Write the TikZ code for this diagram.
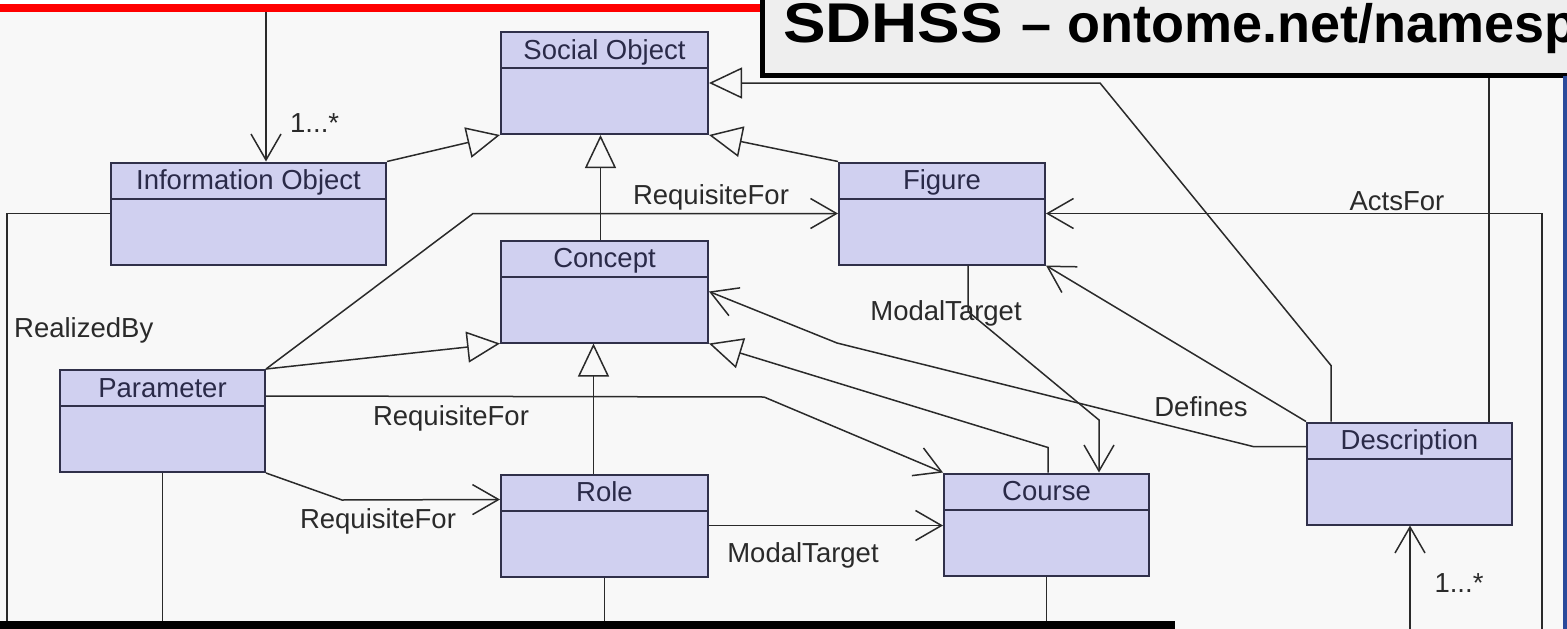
\documentclass[tikz,border=0pt]{standalone}
\usepackage{fontspec}
\setmainfont{Liberation Sans}
\newfontfamily\titlewide[FakeStretch=1.14]{Liberation Sans}
\usetikzlibrary{arrows.meta,positioning}

\definecolor{boxfill}{HTML}{D0D0F0}
\definecolor{boxedge}{HTML}{30304A}
\definecolor{linegray}{HTML}{2A2A2A}
\definecolor{paper}{HTML}{F8F8F8}
\definecolor{titlegray}{HTML}{EEEEEE}
\definecolor{slideblue}{HTML}{2B4A9B}
\definecolor{namecol}{HTML}{2A2A48}

\tikzset{
  classbox/.style={draw=boxedge, line width=2pt, fill=boxfill, inner sep=0pt, minimum height=102pt},
  classname/.style={text=namecol, font=\fontsize{27.5}{32}\selectfont, inner sep=0pt, anchor=base},
  lbl/.style={text=linegray, font=\fontsize{27.5}{32}\selectfont, inner sep=0pt},
  link/.style={draw=linegray, line width=1.5pt},
  assoc/.style={link, -{Straight Barb[length=26pt, width=30pt]}},
  isa/.style={link, -{Triangle[length=33pt, width=31pt, fill=paper]}},
}

\begin{document}
\begin{tikzpicture}[x=1pt, y=-1pt]
\useasboundingbox (0,0) rectangle (1567,629);
\clip (0,0) rectangle (1567,629);
\fill[paper] (0,0) rectangle (1567,629);
\fill[white] (0,0) rectangle (765,5);

% classes
\foreach \n/\cx/\cy/\w/\t in {socobj/604.5/83/207/Social Object,
    infoobj/248.5/213.5/275/Information Object,
    concept/604.5/291.5/207/Concept,
    parameter/162.5/421/205/Parameter,
    role/604.5/525.5/207/Role,
    figure/942/213.5/206/Figure,
    course/1046.5/524.5/205/Course,
    description/1409.5/473.5/205/Description}{
  \node[classbox, minimum width=\w pt] (\n) at (\cx,\cy) {};
  \draw[draw=boxedge, line width=2pt] ([yshift=-37pt]\n.north west) -- ([yshift=-37pt]\n.north east);
  \node[classname] (\n-name) at ([yshift=-28pt]\n.north) {\t};
}

% generalisations
\draw[isa] (infoobj.north east) -- (socobj.south west);
\draw[isa] ([xshift=-4pt]concept.north) -- ([xshift=-4pt]socobj.south);
\draw[isa] (figure.north west) -- (socobj.south east);
\draw[isa] ([xshift=25pt]description.north west) -- ++(0,-56) -- (1100,83) -- (socobj.east);
\draw[isa] (parameter.north east) -- (concept.south west);
\draw[isa] ([xshift=-11pt]role.north) -- ([xshift=-11pt]concept.south);
\draw[isa] ([xshift=1.5pt]course.north) -- ++(0,-25) -- (concept.south east);

% associations
\coordinate (topin) at (266,10);
\draw[assoc] (topin) -- (topin |- infoobj.north);
\node[lbl, anchor=west] (mult-top) at (290,123) {1...*};

\coordinate (descup) at (1489,60);
\draw[link] (descup |- description.north) -- (descup);

\coordinate (actsbot) at (1542,629);
\draw[assoc] (actsbot) |- (figure.east);
\node[lbl] (acts) at (1397,201) {ActsFor};

\draw[assoc] (parameter.north east) -- (473,213.5) -- (figure.west);
\node[lbl] (req-fig) at (711,197) {RequisiteFor};

\draw[assoc] ([yshift=-25pt]description.north west) -- ++(-53,0) -- (837,343) -- (concept.east);
\node[lbl] (def) at (1201,407) {Defines};

\node[lbl] (mt-fig) at (946,313) {ModalTarget};
\draw[assoc] ([xshift=26pt]figure.south) -- ++(0,46) -- (1099,420) -- ([xshift=52.5pt]course.north);

\draw[assoc] (description.north west) -- (figure.south east);

\draw[assoc] ([yshift=-27pt]parameter.north east) -- (764,397) -- (course.north west);
\node[lbl] (req-course) at (451,418) {RequisiteFor};

\draw[assoc] (parameter.south east) -- (342,500) -- ([yshift=-26pt]role.north west);
\node[lbl] (req-role) at (378,521) {RequisiteFor};

\draw[assoc] (role.east) -- (role.east -| course.west);
\node[lbl] (mt-role) at (803,555) {ModalTarget};

\coordinate (realbot) at (7,629);
\draw[link] ([yshift=-52pt]infoobj.north west) -| (realbot);
\node[lbl, anchor=west] (realized) at (14,330) {RealizedBy};

% lines leaving through the bottom
\draw[link] (parameter.south) -- (parameter.south |- realbot);
\draw[link] (role.south) -- (role.south |- realbot);
\draw[link] (course.south) -- (course.south |- realbot);
\coordinate (descbot) at (1410,629);
\draw[assoc] (descbot) -- (descbot |- description.south);
\node[lbl] (mult-desc) at (1459,583) {1...*};

% slide frame
\fill[red] (0,4) rectangle (765,12);
\draw[line width=5pt, fill=titlegray] (762.5,-20) rectangle (1620,75.5);
\node[anchor=base west, inner sep=0pt] (title) at (783,42)
  {\bfseries{\titlewide\fontsize{56}{62}\selectfont SDHSS}\hspace{18pt}\fontsize{54}{60}\selectfont --\hspace{16pt}ontome.net/namesp};
\fill[slideblue] (1563,76) rectangle (1567,629);
\fill[black] (0,621) rectangle (1175,640);
\end{tikzpicture}
\end{document}
